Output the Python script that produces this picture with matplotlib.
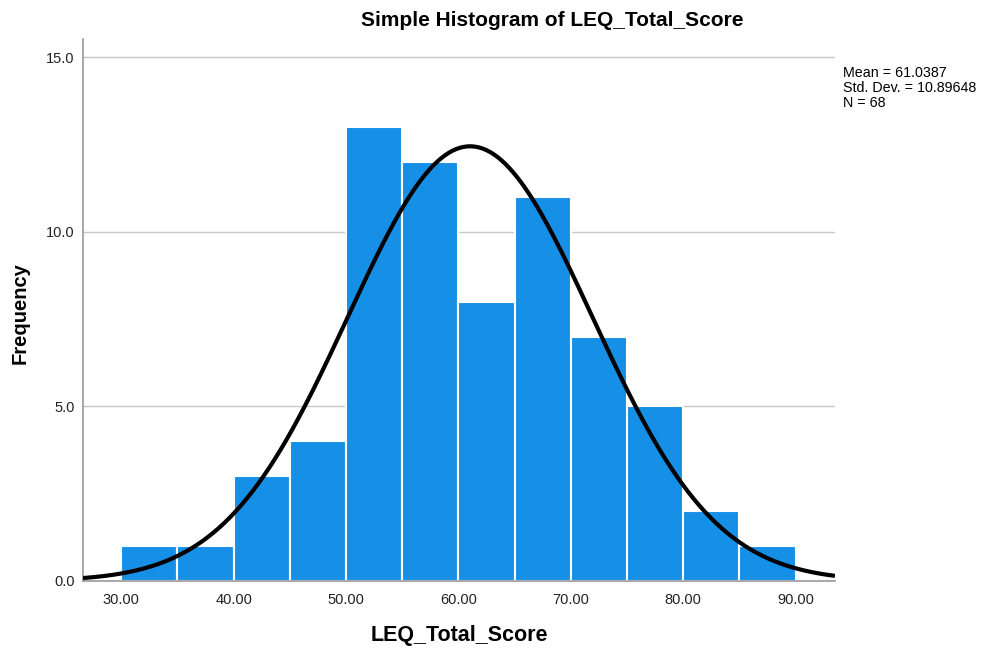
import matplotlib.pyplot as plt
import numpy as np

# 分组频数（组宽 5）
bin_edges = [30, 35, 40, 45, 50, 55, 60, 65, 70, 75, 80, 85, 90]
counts = [1, 1, 3, 4, 13, 12, 8, 11, 7, 5, 2, 1]
mean = 61.0387
std = 10.89648
n = 68

xticks = [30, 40, 50, 60, 70, 80, 90]
yticks = [0, 5, 10, 15]

plt.rcParams["font.family"] = ["Liberation Sans", "DejaVu Sans"]

fig = plt.figure(figsize=(9.85, 6.54), dpi=100)
ax = fig.add_axes([83 / 985, 1 - 581 / 654, (835 - 83) / 985, (581 - 39) / 654])

# 网格线
for y in yticks[1:]:
    ax.axhline(y, color="#c8c8c8", linewidth=1.0, zorder=0)

# 直方图
lefts = np.array(bin_edges[:-1])
widths = np.diff(bin_edges)
ax.bar(lefts, counts, width=widths, align="edge", color="#1690e6",
       edgecolor="white", linewidth=1.5, zorder=2)

# 正态曲线
binw = widths[0]
xs = np.linspace(26.6, 93.5, 400)
ys = n * binw * np.exp(-0.5 * ((xs - mean) / std) ** 2) / (std * np.sqrt(2 * np.pi))
ax.plot(xs, ys, color="black", linewidth=3.0, zorder=3, solid_capstyle="butt")

ax.set_xlim(26.6, 93.5)
ax.set_ylim(0, 15.52)
ax.set_xticks(xticks)
ax.set_xticklabels([f"{v:.2f}" for v in xticks], fontsize=10.5, color="#222222")
ax.set_yticks(yticks)
ax.set_yticklabels([f"{v:.1f}" for v in yticks], fontsize=10.5, color="#222222")
ax.tick_params(axis="x", length=0, pad=9)
ax.tick_params(axis="y", length=0, pad=6)

for side in ["top", "right"]:
    ax.spines[side].set_visible(False)
for side in ["left", "bottom"]:
    ax.spines[side].set_color("#999999")
    ax.spines[side].set_linewidth(1.2)

fig.text(552 / 985, 1 - 20 / 654, "Simple Histogram of LEQ_Total_Score",
         ha="center", va="center", fontsize=15, fontweight="bold")
fig.text(459 / 985, 1 - 636 / 654, "LEQ_Total_Score",
         ha="center", va="center", fontsize=15.5, fontweight="bold")
fig.text(20 / 985, 1 - 313 / 654, "Frequency", rotation=90,
         ha="center", va="center", fontsize=14.5, fontweight="bold")

fig.text(843 / 985, 1 - 66 / 654,
         f"Mean = {mean}\nStd. Dev. = {std}\nN = {n}",
         ha="left", va="top", fontsize=10.3, linespacing=1.08)

fig.savefig("out.png", dpi=100)
